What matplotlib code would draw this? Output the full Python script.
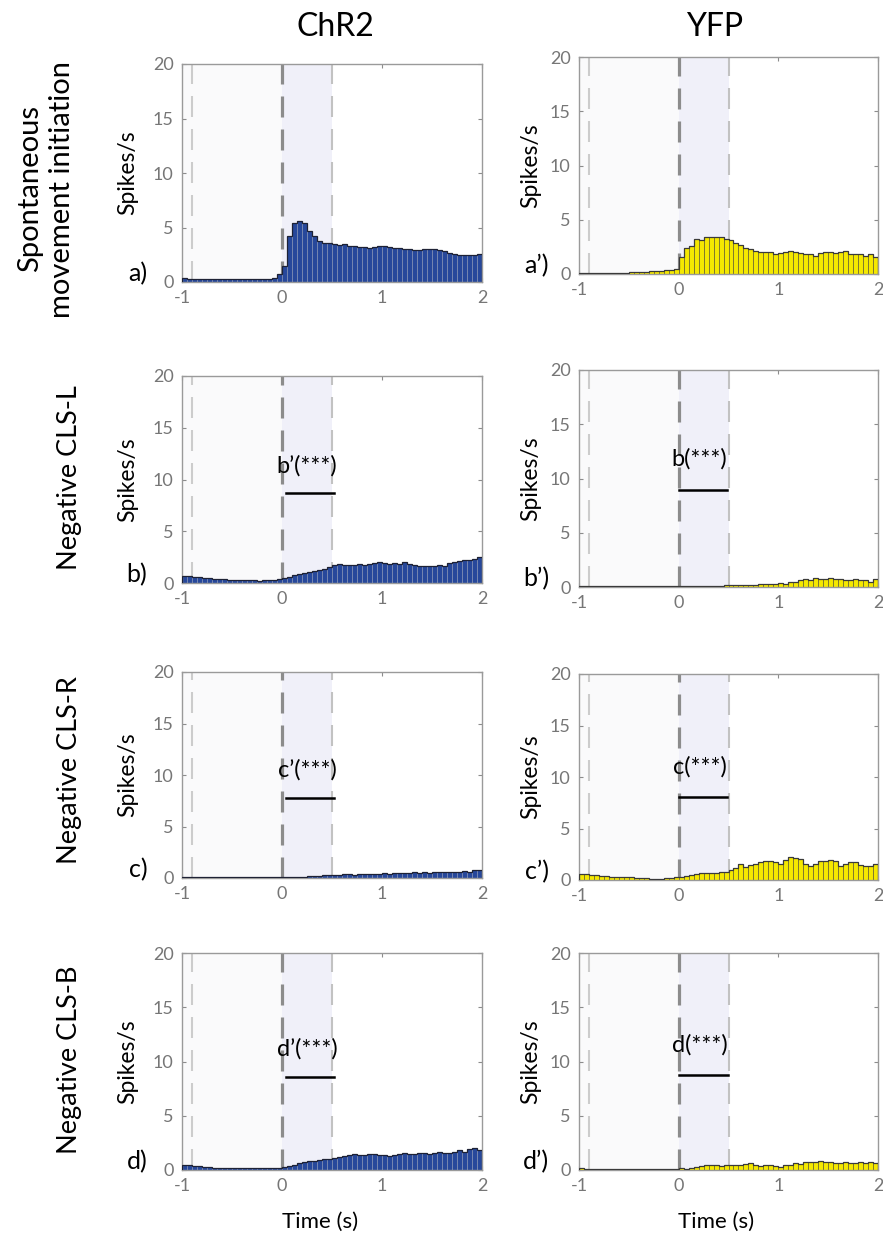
"""Peri-event firing-rate histograms, ChR2 vs YFP, four behavioural conditions."""

import matplotlib.pyplot as plt
import numpy as np

plt.rcParams['font.family'] = ['Lato', 'DejaVu Sans']
plt.rcParams['axes.unicode_minus'] = False

FIG_W, FIG_H = 883, 1238
DPI = 100

# 50 ms bins from -1 s to 2 s
bin_edges = np.linspace(-1, 2, 61)

groups = ['ChR2', 'YFP']
conditions = ['Spontaneous\nmovement initiation', 'Negative CLS-L',
              'Negative CLS-R', 'Negative CLS-B']

# ChR2 rates (spikes/s), one list per condition
chr2_spont = [0.35, 0.3, 0.3, 0.3, 0.3, 0.3, 0.3, 0.3, 0.3, 0.3,
              0.3, 0.3, 0.3, 0.3, 0.3, 0.3, 0.3, 0.3, 0.4, 0.7,
              1.5, 4.2, 5.4, 5.6, 5.4, 4.7, 4.2, 3.8, 3.6, 3.6,
              3.5, 3.4, 3.5, 3.3, 3.3, 3.2, 3.2, 3.1, 3.2, 3.3,
              3.3, 3.2, 3.1, 3.1, 3.0, 3.0, 2.9, 2.9, 3.0, 3.0,
              3.0, 2.9, 2.8, 2.7, 2.6, 2.5, 2.5, 2.5, 2.5, 2.6]
chr2_cls_l = [0.7, 0.65, 0.6, 0.55, 0.5, 0.45, 0.4, 0.4, 0.35, 0.3,
              0.3, 0.3, 0.25, 0.25, 0.25, 0.2, 0.25, 0.3, 0.3, 0.4,
              0.5, 0.6, 0.8, 0.9, 1.0, 1.1, 1.2, 1.3, 1.4, 1.5,
              1.7, 1.8, 1.7, 1.7, 1.7, 1.8, 1.7, 1.8, 1.9, 2.0,
              1.9, 1.8, 1.9, 1.8, 2.0, 1.8, 1.7, 1.6, 1.6, 1.6,
              1.6, 1.7, 1.6, 1.9, 2.0, 2.1, 2.2, 2.2, 2.3, 2.5]
chr2_cls_r = [0.05] * 20 + [
              0.05, 0.05, 0.05, 0.1, 0.1, 0.15, 0.2, 0.2, 0.25, 0.3,
              0.3, 0.3, 0.35, 0.35, 0.3, 0.35, 0.35, 0.4, 0.4, 0.4,
              0.45, 0.4, 0.45, 0.5, 0.45, 0.5, 0.6, 0.5, 0.55, 0.5,
              0.6, 0.6, 0.55, 0.6, 0.6, 0.55, 0.65, 0.6, 0.75, 0.8]
chr2_cls_b = [0.5, 0.45, 0.4, 0.35, 0.3, 0.25, 0.2, 0.2, 0.2, 0.2,
              0.2, 0.15, 0.15, 0.15, 0.15, 0.15, 0.15, 0.15, 0.15, 0.2,
              0.3, 0.4, 0.5, 0.6, 0.7, 0.8, 0.85, 0.9, 1.0, 1.0,
              1.1, 1.2, 1.3, 1.4, 1.5, 1.4, 1.4, 1.5, 1.5, 1.4,
              1.4, 1.3, 1.4, 1.5, 1.6, 1.5, 1.5, 1.6, 1.6, 1.5,
              1.6, 1.7, 1.6, 1.6, 1.7, 1.8, 1.7, 1.9, 2.0, 1.8]

# YFP rates (spikes/s)
yfp_spont = [0.1, 0.1, 0.1, 0.1, 0.1, 0.1, 0.1, 0.1, 0.1, 0.1,
             0.15, 0.15, 0.2, 0.2, 0.25, 0.3, 0.3, 0.35, 0.4, 0.5,
             1.6, 2.4, 2.6, 3.2, 3.1, 3.4, 3.4, 3.4, 3.4, 3.2,
             3.1, 2.9, 2.7, 2.4, 2.3, 2.1, 2.0, 2.0, 2.0, 1.8,
             1.9, 2.0, 2.1, 2.0, 1.9, 1.8, 1.8, 1.7, 1.9, 2.0,
             2.0, 1.9, 2.0, 2.1, 1.8, 1.8, 1.8, 1.7, 1.8, 1.6]
yfp_cls_l = [0.05] * 20 + [
             0.05, 0.05, 0.05, 0.05, 0.1, 0.1, 0.1, 0.1, 0.1, 0.15,
             0.15, 0.15, 0.15, 0.15, 0.2, 0.2, 0.3, 0.3, 0.25, 0.3,
             0.35, 0.3, 0.5, 0.5, 0.6, 0.7, 0.6, 0.8, 0.7, 0.7,
             0.8, 0.7, 0.7, 0.6, 0.6, 0.7, 0.6, 0.6, 0.5, 0.7]
yfp_cls_r = [0.6, 0.55, 0.5, 0.45, 0.4, 0.35, 0.3, 0.3, 0.25, 0.3,
             0.25, 0.2, 0.2, 0.15, 0.1, 0.1, 0.1, 0.15, 0.2, 0.25,
             0.3, 0.4, 0.5, 0.6, 0.7, 0.7, 0.7, 0.7, 0.8, 0.8,
             1.0, 1.2, 1.6, 1.3, 1.5, 1.6, 1.7, 1.8, 1.8, 1.7,
             1.6, 1.9, 2.2, 2.1, 2.0, 1.6, 1.4, 1.6, 1.8, 1.8,
             1.9, 1.8, 1.4, 1.6, 1.7, 1.7, 1.5, 1.4, 1.4, 1.6]
yfp_cls_b = [0.15] + [0.1] * 19 + [
             0.15, 0.1, 0.15, 0.3, 0.4, 0.45, 0.5, 0.5, 0.4, 0.45,
             0.5, 0.45, 0.5, 0.55, 0.6, 0.45, 0.4, 0.45, 0.5, 0.35,
             0.3, 0.45, 0.5, 0.6, 0.55, 0.7, 0.75, 0.7, 0.8, 0.75,
             0.7, 0.6, 0.65, 0.7, 0.6, 0.65, 0.7, 0.6, 0.7, 0.6]

rates = [[chr2_spont, yfp_spont],
         [chr2_cls_l, yfp_cls_l],
         [chr2_cls_r, yfp_cls_r],
         [chr2_cls_b, yfp_cls_b]]

panel_letters = [["a)", "a\u2019)"],
                 ["b)", "b\u2019)"],
                 ["c)", "c\u2019)"],
                 ["d)", "d\u2019)"]]

# significance marker per panel: label, bar height, bar span (s)
sig_labels = [[None, None],
              ["b\u2019(***)", "b(***)"],
              ["c\u2019(***)", "c(***)"],
              ["d\u2019(***)", "d(***)"]]
sig_heights = [[None, None], [8.7, 8.9], [7.8, 8.1], [8.6, 8.8]]
sig_text_y = [[None, None], [10.7, 11.2], [9.8, 10.3], [10.5, 10.9]]
sig_spans = [[None, None], [(0.04, 0.52), (0.0, 0.48)],
             [(0.04, 0.52), (0.0, 0.48)], [(0.04, 0.52), (0.0, 0.49)]]

# axes boxes in pixels: (left, top, right, bottom)
boxes = [[(182, 64, 482, 282), (579, 57, 878, 274)],
         [(182, 376, 482, 583), (579, 370, 878, 587)],
         [(182, 672, 482, 878), (579, 674, 878, 880)],
         [(182, 953, 482, 1170), (579, 953, 878, 1170)]]

bar_style = {
    'ChR2': dict(face='#27489b', edge='#7a8ab2', top='#1e2235'),
    'YFP': dict(face='#f5e800', edge='#75702e', top='#3a3a3a'),
}


def dashes(lw, on_px=21, off_px=12):
    """Dash pattern with fixed on/off lengths in pixels."""
    to_pt = 72 / DPI
    return (0, (on_px * to_pt / lw, off_px * to_pt / lw))


def draw_panel(ax, values, group):
    """Shading, event markers and the histogram for one panel."""
    ax.axvspan(-1, 0, color='#fafafb', zorder=0, lw=0)
    ax.axvspan(0, 0.5, color='#f0f0f9', zorder=0, lw=0)
    ax.axvline(-0.9, color='#cccccc', lw=1.5, ls=dashes(1.5), zorder=1)
    ax.axvline(0, color='#8c8c8c', lw=2.3, ls=dashes(2.3), zorder=1)
    ax.axvline(0.5, color='#c2c2c2', lw=1.5, ls=dashes(1.5), zorder=1)

    style = bar_style[group]
    widths = np.diff(bin_edges)
    ax.bar(bin_edges[:-1], values, width=widths, align='edge',
           color=style['face'], edgecolor=style['edge'], linewidth=0.6,
           zorder=2)
    ax.stairs(values, bin_edges, color=style['top'], lw=0.9, zorder=3)

    ax.set_xlim(-1, 2)
    ax.set_ylim(0, 20)
    ax.set_xticks([-1, 0, 1, 2])
    ax.set_yticks([0, 5, 10, 15, 20])
    ax.tick_params(direction='in', length=3, pad=6, colors='#8c8c8c',
                   labelcolor='#767676', labelsize=13, top=True, right=True,
                   labeltop=False, labelright=False)
    for spine in ax.spines.values():
        spine.set_color('#9a9a9a')
        spine.set_linewidth(1.0)
    ax.set_ylabel('Spikes/s', fontsize=16.5, va='center')


fig = plt.figure(figsize=(FIG_W / DPI, FIG_H / DPI), dpi=DPI)

label_x = [-0.18, -0.16]
letter_x = [-0.115, -0.1]
for r in range(4):
    for c, group in enumerate(groups):
        left, top, right, bottom = boxes[r][c]
        ax = fig.add_axes([left / FIG_W, 1 - bottom / FIG_H,
                           (right - left) / FIG_W, (bottom - top) / FIG_H])
        draw_panel(ax, rates[r][c], group)
        ax.yaxis.set_label_coords(label_x[c], 0.5)
        ax.text(letter_x[c], 0.04, panel_letters[r][c],
                transform=ax.transAxes, fontsize=18, ha='right',
                va='center')
        if sig_labels[r][c]:
            x0, x1 = sig_spans[r][c]
            y = sig_heights[r][c]
            ax.plot([x0, x1], [y, y], color='black', lw=1.8, zorder=4)
            ax.text((x0 + x1) / 2 - 0.03, sig_text_y[r][c],
                    sig_labels[r][c], fontsize=17, ha='center',
                    va='baseline', zorder=4)
        if r == 3:
            ax.set_xlabel('Time (s)', fontsize=16, va='center')
            ax.xaxis.set_label_coords(0.46, -(1222 - 1170) / 217)

fig.text(335 / FIG_W, 1 - 27 / FIG_H, groups[0], fontsize=23,
         ha='center', va='center')
fig.text(715 / FIG_W, 1 - 27 / FIG_H, groups[1], fontsize=23,
         ha='center', va='center')

fig.text(46 / FIG_W, 1 - 189 / FIG_H, conditions[0], fontsize=21,
         rotation=90, ha='center', va='center', linespacing=1.3)
for r, y_px in zip(range(1, 4), [478, 770, 1060]):
    fig.text(69 / FIG_W, 1 - y_px / FIG_H, conditions[r], fontsize=19.5,
             rotation=90, ha='center', va='center')

fig.savefig('out.png', dpi=DPI)
plt.close(fig)
